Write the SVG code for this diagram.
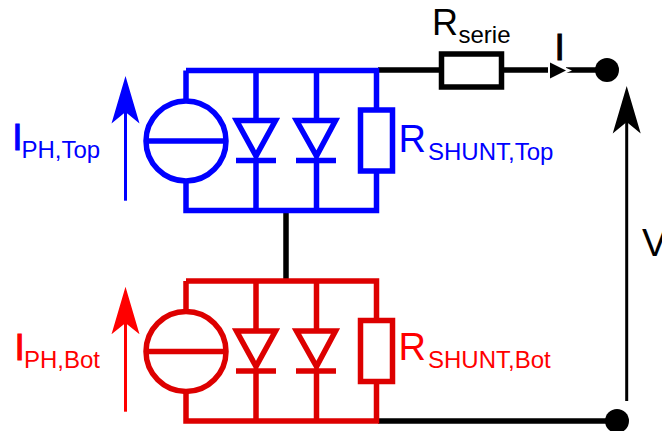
<svg xmlns="http://www.w3.org/2000/svg" width="662" height="431" viewBox="0 0 662 431">
<style>
.w{fill:none;stroke-width:5.5;stroke-linecap:butt;stroke-linejoin:miter}
.b{stroke:#0000ff}.r{stroke:#dd0000}.k{stroke:#000}
.t{font-family:"Liberation Sans",Arial,sans-serif}
.big{font-size:38px}.sub{font-size:24px}.ser{font-size:36px}
.i{font-size:37px;stroke-width:1}
</style>
<defs>
<g id="cell">
<path d="M186 70.500H376.500V108M186 70.500V100M186 181V210.500H376.500V173M256 70.500V120M316.500 70.500V120M256 160V210.500M316.500 160V210.500"/>
<circle cx="186" cy="141" r="40"/>
<path d="M146 141H226"/>
<path d="M236.500 120.500H275.500L256 156ZM236 160.500H276M296.500 120.500H335.500L316.500 156ZM296 160.500H336"/>
<rect x="360.500" y="110" width="32" height="61"/>
</g>
</defs>
<g id="connectors">
<path class="w k" d="M378 70H442M502 70H550M566 70H600M286 212V280M378 421H610"/>
</g>
<g id="top-cell"><use href="#cell" class="w b"/></g>
<g id="bottom-cell"><use href="#cell" class="w r" y="210.500"/></g>
<g id="iph-top">
<path d="M125.500 200.700V112" stroke="#0000ff" stroke-width="3" fill="none"/>
<path d="M125.500 76L139.500 123.500L125.500 112L111.500 123.500Z" fill="#0000ff"/>
<text class="t i" x="12.300" y="150.200" fill="#0000ff" stroke="#0000ff">I</text>
<text class="t sub" x="21.500" y="158.300" fill="#0000ff">PH,Top</text>
</g>
<g id="iph-bot">
<path d="M125.500 411.700V323" stroke="#ff0000" stroke-width="3" fill="none"/>
<path d="M125.500 286.700L139.500 334.200L125.500 323L111.500 334.200Z" fill="#ff0000"/>
<text class="t i" x="14.400" y="360.200" fill="#ff0000" stroke="#ff0000">I</text>
<text class="t sub" x="24" y="368.300" fill="#ff0000">PH,Bot</text>
</g>
<g id="rshunt-top-label">
<text class="t big" x="398.500" y="152" fill="#0000ff">R</text>
<text class="t sub" x="428" y="159.500" fill="#0000ff">SHUNT,Top</text>
</g>
<g id="rshunt-bot-label">
<text class="t big" x="398.500" y="359.500" fill="#ff0000">R</text>
<text class="t sub" x="428" y="367.700" fill="#ff0000">SHUNT,Bot</text>
</g>
<g id="rserie">
<rect class="w k" x="441.500" y="54" width="60" height="33"/>
<text class="t ser" x="432" y="34.500">R</text>
<text class="t sub" x="458.500" y="43">serie</text>
</g>
<g id="current">
<path d="M548 60L572 70.500L548 81Z" fill="#fff"/>
<path d="M550 62.500L566 70.500L550 78.500Z" fill="#000"/>
<text class="t i" x="554.400" y="59.700" fill="#000" stroke="#000">I</text>
</g>
<g id="node-top"><circle cx="607" cy="70" r="12"/></g>
<g id="node-bot"><circle cx="617" cy="421" r="12"/></g>
<g id="voltage">
<path d="M626.700 401V122" stroke="#000" stroke-width="3" fill="none"/>
<path d="M626.700 86L640.700 133.500L626.700 122L612.700 133.500Z"/>
<text class="t big" x="642" y="256">V</text>
</g>
</svg>
